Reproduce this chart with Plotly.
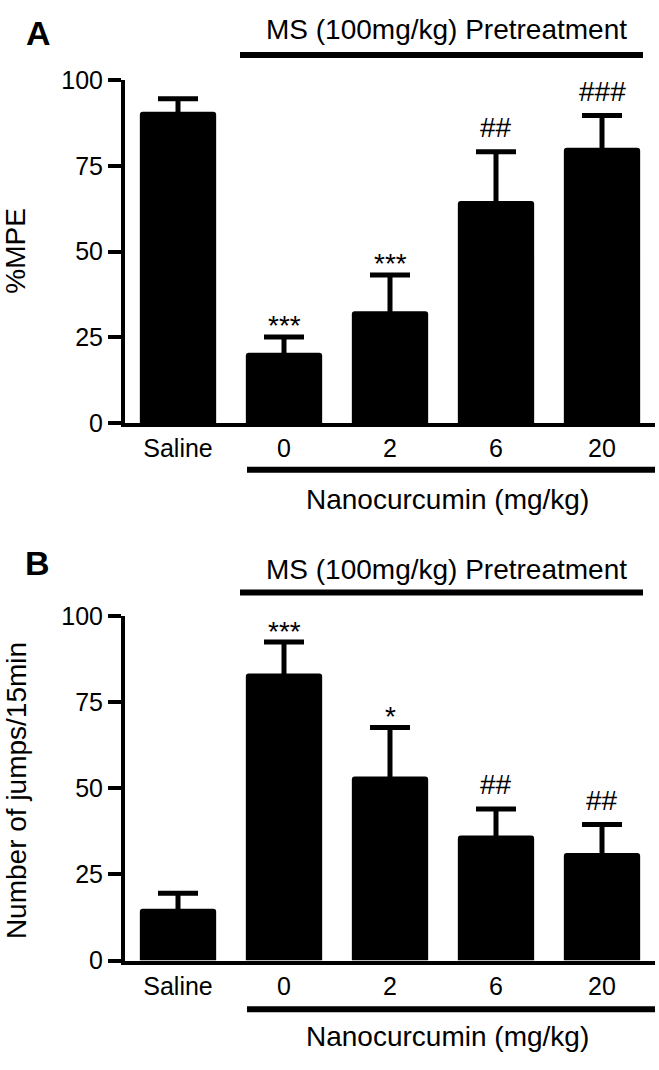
import plotly.graph_objects as go

# data
groups = ["Saline", "0", "2", "6", "20"]

mpe_mean = [90.8, 20.5, 32.6, 64.8, 80.3]
mpe_err = [3.8, 4.6, 10.6, 14.3, 9.4]
mpe_sig = ["", "***", "***", "##", "###"]

jumps_mean = [15.0, 83.3, 53.4, 36.3, 31.2]
jumps_err = [4.5, 9.1, 14.2, 7.7, 8.3]
jumps_sig = ["", "***", "*", "##", "##"]

FONT = "Liberation Sans, Arial, sans-serif"
W, H = 659, 1070


def py(pix):
    # page pixel row -> paper y
    return 1 - pix / H


def px(pix):
    return pix / W


fig = go.Figure()

xs = list(range(len(groups)))
panels = [
    (mpe_mean, mpe_err, mpe_sig, "x", "y"),
    (jumps_mean, jumps_err, jumps_sig, "x2", "y2"),
]
for mean, err, sig, xa, ya in panels:
    # symmetric bars: the lower half hides inside the black bar
    fig.add_trace(go.Bar(
        x=xs, y=mean, width=0.72, xaxis=xa, yaxis=ya,
        marker=dict(color="black", line=dict(color="black", width=0), cornerradius=3),
        error_y=dict(type="data", array=err, color="black", thickness=5, width=20),
        showlegend=False, hoverinfo="skip",
    ))
    for i, s in enumerate(sig):
        if not s:
            continue
        star = s.startswith("*")
        fig.add_annotation(
            x=xs[i], y=mean[i] + err[i], xref=xa, yref=ya,
            text=s, showarrow=False, yanchor="middle",
            yshift=11 if star else 24,
            font=dict(family=FONT, size=28, color="black"),
        )

axis_common = dict(showline=True, linecolor="black", linewidth=4,
                   showgrid=False, zeroline=False)
xaxis_common = dict(range=[-0.5, 4.5], tickmode="array", tickvals=xs,
                    ticktext=groups, ticks="",
                    tickfont=dict(family=FONT, size=25, color="black"),
                    **axis_common)
yaxis_common = dict(range=[0, 100], tickmode="array",
                    tickvals=[0, 25, 50, 75, 100],
                    ticks="outside", ticklen=13, tickwidth=4, tickcolor="black",
                    tickfont=dict(family=FONT, size=25, color="black"),
                    **axis_common)

fig.update_layout(
    width=W, height=H,
    margin=dict(l=0, r=0, t=0, b=0),
    plot_bgcolor="white", paper_bgcolor="white",
    xaxis=dict(domain=[px(125), px(655)], anchor="y", **xaxis_common),
    yaxis=dict(domain=[py(420), py(68)], anchor="x", **yaxis_common),
    xaxis2=dict(domain=[px(125), px(655)], anchor="y2", **xaxis_common),
    yaxis2=dict(domain=[py(972), py(618)], anchor="x2", **yaxis_common),
)

# panel labels, titles and group bars (page pixel positions)
text_items = [
    ("A", 38, 19, 34, True, 0),
    ("B", 37, 564, 34, True, 0),
    ("MS (100mg/kg) Pretreatment", 446, 16, 28, False, 0),
    ("MS (100mg/kg) Pretreatment", 446, 570, 28, False, 0),
    ("Nanocurcumin (mg/kg)", 447, 499, 28, False, 0),
    ("Nanocurcumin (mg/kg)", 447, 1050, 28, False, 0),
    ("%MPE", 16, 243, 28, False, -90),
    ("Number of jumps/15min", 16, 798, 28, False, -90),
]
for txt, x, y, size, bold, ang in text_items:
    fig.add_annotation(
        x=px(x), y=py(y), xref="paper", yref="paper",
        text=f"<b>{txt}</b>" if bold else txt, showarrow=False,
        xanchor="center", yanchor="middle", textangle=ang,
        font=dict(family=FONT, size=size, color="black"),
    )

for x0, x1, y in [(240, 643, 42), (247, 655, 468), (240, 643, 594), (247, 655, 1022)]:
    fig.add_shape(type="line", xref="paper", yref="paper",
                  x0=px(x0), x1=px(x1), y0=py(y), y1=py(y),
                  line=dict(color="black", width=6))

# drop the default body margin so the figure sits at the page origin,
# and keep the modebar/hover out of the picture
fig.write_html("out.html",
               config={"staticPlot": True, "displayModeBar": False},
               post_script="document.body.style.margin='0';"
                           "document.body.style.overflow='hidden';")
